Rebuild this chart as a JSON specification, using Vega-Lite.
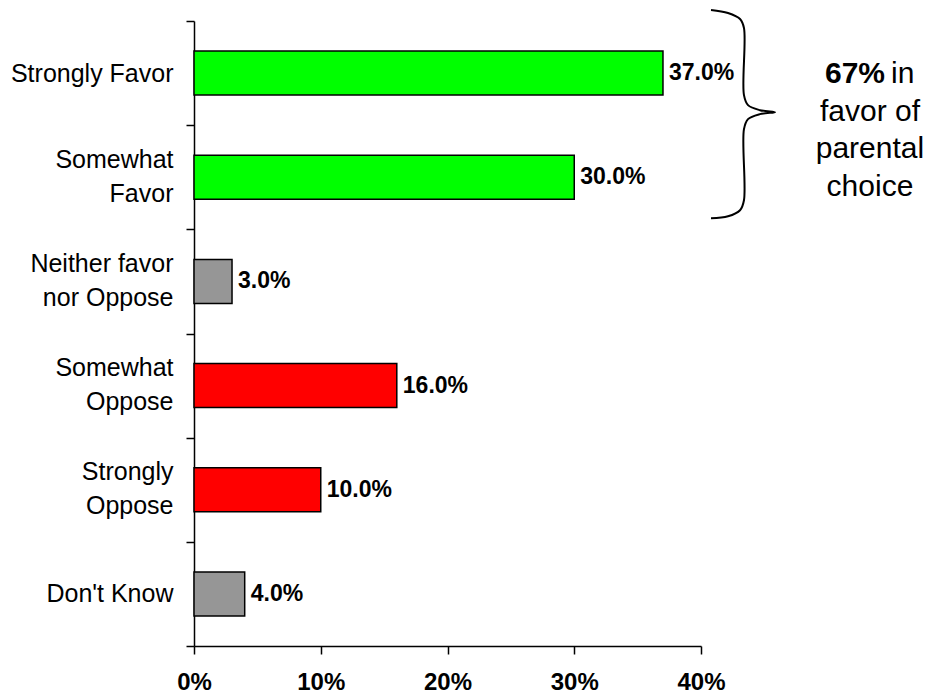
{
  "$schema": "https://vega.github.io/schema/vega-lite/v6.json",
  "width": 507,
  "height": 625,
  "autosize": {"type": "none"},
  "padding": {"left": 194, "top": 21, "right": 229, "bottom": 51},
  "background": "white",
  "config": {"view": {"stroke": null}, "font": "Liberation Sans"},
  "datasets": {
    "bars": [
      {"response": "Strongly Favor", "share": 0.37, "group": "favor"},
      {"response": "Somewhat Favor", "share": 0.30, "group": "favor"},
      {"response": "Neither favor nor Oppose", "share": 0.03, "group": "neutral"},
      {"response": "Somewhat Oppose", "share": 0.16, "group": "oppose"},
      {"response": "Strongly Oppose", "share": 0.10, "group": "oppose"},
      {"response": "Don't Know", "share": 0.04, "group": "neutral"}
    ],
    "brace": [
      {"step": 1, "bx": 0.4079, "by": -0.106},
      {"step": 2, "bx": 0.4213, "by": -0.077},
      {"step": 3, "bx": 0.4308, "by": -0.019},
      {"step": 4, "bx": 0.4339, "by": 0.067},
      {"step": 5, "bx": 0.4339, "by": 0.712},
      {"step": 6, "bx": 0.4371, "by": 0.808},
      {"step": 7, "bx": 0.4465, "by": 0.856},
      {"step": 8, "bx": 0.4584, "by": 0.875},
      {"step": 9, "bx": 0.4465, "by": 0.894},
      {"step": 10, "bx": 0.4371, "by": 0.942},
      {"step": 11, "bx": 0.4339, "by": 1.038},
      {"step": 12, "bx": 0.4339, "by": 1.721},
      {"step": 13, "bx": 0.4308, "by": 1.817},
      {"step": 14, "bx": 0.4213, "by": 1.875},
      {"step": 15, "bx": 0.4079, "by": 1.894}
    ],
    "noteBold": [{"text": "67%", "tx": 0.5452, "ty": 0.51}],
    "noteIn": [{"text": "in", "tx": 0.5499, "ty": 0.51}],
    "noteLines": [
      {"text": "favor of", "tx": 0.5333, "ty": 0.875},
      {"text": "parental", "tx": 0.5333, "ty": 1.231},
      {"text": "choice", "tx": 0.5333, "ty": 1.596}
    ]
  },
  "layer": [
    {
      "data": {"name": "bars"},
      "encoding": {
        "y": {
          "field": "response",
          "type": "nominal",
          "sort": null,
          "scale": {"paddingInner": 0, "paddingOuter": 0},
          "axis": {
            "title": null,
            "tickBand": "extent",
            "tickSize": 8,
            "labelPadding": 13,
            "labelFontSize": 25,
            "labelColor": "black",
            "labelLineHeight": 34,
            "labelLimit": 400,
            "labelOffset": {"condition": {"test": "datum.value == 'Strongly Favor' || datum.value == \"Don't Know\"", "value": 0}, "value": -18},
            "domainColor": "black",
            "tickColor": "black",
            "domainWidth": 1.5,
            "tickWidth": 1.5,
            "labelExpr": "datum.label == 'Somewhat Favor' ? ['Somewhat','Favor'] : datum.label == 'Neither favor nor Oppose' ? ['Neither favor','nor Oppose'] : datum.label == 'Somewhat Oppose' ? ['Somewhat','Oppose'] : datum.label == 'Strongly Oppose' ? ['Strongly','Oppose'] : datum.label"
          }
        },
        "x": {
          "field": "share",
          "type": "quantitative",
          "scale": {"domain": [0, 0.4], "nice": false},
          "axis": {
            "title": null,
            "format": ".0%",
            "values": [0, 0.1, 0.2, 0.3, 0.4],
            "grid": false,
            "labelFontWeight": "bold",
            "labelFontSize": 24,
            "labelColor": "black",
            "labelPadding": 16,
            "labelFlush": false,
            "tickSize": 8,
            "tickColor": "black",
            "domainColor": "black",
            "tickWidth": 1.5,
            "domainWidth": 1.5
          }
        }
      },
      "layer": [
        {
          "mark": {"type": "bar", "stroke": "black", "strokeWidth": 1.5, "height": {"band": 0.423}},
          "encoding": {
            "color": {
              "field": "group",
              "type": "nominal",
              "scale": {"domain": ["favor", "neutral", "oppose"], "range": ["#00ff00", "#969696", "#ff0000"]},
              "legend": null
            }
          }
        },
        {
          "mark": {"type": "text", "align": "left", "baseline": "middle", "dx": 6, "fontWeight": "bold", "fontSize": 23, "color": "black"},
          "encoding": {"text": {"field": "share", "type": "quantitative", "format": ".1%"}}
        }
      ]
    },
    {
      "data": {"name": "brace"},
      "mark": {"type": "line", "color": "black", "strokeWidth": 2, "interpolate": "catmull-rom", "clip": false},
      "encoding": {
        "x": {"field": "bx", "type": "quantitative", "scale": {"domain": [0, 0.4], "nice": false}, "axis": null},
        "y": {"field": "by", "type": "quantitative", "scale": {"domain": [0, 6], "reverse": true, "nice": false, "zero": false}, "axis": null},
        "order": {"field": "step", "type": "quantitative"}
      }
    },
    {
      "data": {"name": "noteBold"},
      "mark": {"type": "text", "align": "right", "baseline": "middle", "fontWeight": "bold", "fontSize": 30, "color": "black", "clip": false},
      "encoding": {
        "x": {"field": "tx", "type": "quantitative", "scale": {"domain": [0, 0.4], "nice": false}, "axis": null},
        "y": {"field": "ty", "type": "quantitative", "scale": {"domain": [0, 6], "reverse": true, "nice": false, "zero": false}, "axis": null},
        "text": {"field": "text"}
      }
    },
    {
      "data": {"name": "noteIn"},
      "mark": {"type": "text", "align": "left", "baseline": "middle", "fontSize": 30, "color": "black", "clip": false},
      "encoding": {
        "x": {"field": "tx", "type": "quantitative", "scale": {"domain": [0, 0.4], "nice": false}, "axis": null},
        "y": {"field": "ty", "type": "quantitative", "scale": {"domain": [0, 6], "reverse": true, "nice": false, "zero": false}, "axis": null},
        "text": {"field": "text"}
      }
    },
    {
      "data": {"name": "noteLines"},
      "mark": {"type": "text", "align": "center", "baseline": "middle", "fontSize": 30, "color": "black", "clip": false},
      "encoding": {
        "x": {"field": "tx", "type": "quantitative", "scale": {"domain": [0, 0.4], "nice": false}, "axis": null},
        "y": {"field": "ty", "type": "quantitative", "scale": {"domain": [0, 6], "reverse": true, "nice": false, "zero": false}, "axis": null},
        "text": {"field": "text"}
      }
    }
  ],
  "resolve": {"scale": {"y": "independent"}, "axis": {"x": "independent"}}
}
